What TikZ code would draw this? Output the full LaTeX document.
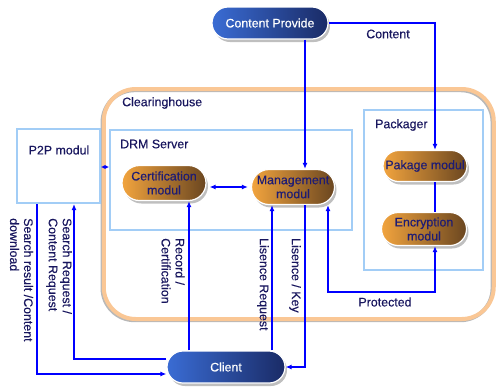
\documentclass[tikz,border=0pt]{standalone}
\usepackage{fontspec}
\setmainfont{Liberation Sans}
\newfontfamily\labelfont{Liberation Sans}[FakeBold=0.35]
\usetikzlibrary{arrows.meta,shapes.misc,shadows}

\definecolor{navy}{HTML}{18165E}
\definecolor{modtext}{HTML}{1E1C74}
\definecolor{wire}{HTML}{0000FF}
\definecolor{peach}{HTML}{FAC795}
\definecolor{frameblue}{HTML}{A2CDF6}
\definecolor{ambl}{HTML}{F2A43E}
\definecolor{ambr}{HTML}{6A4620}
\definecolor{bluel}{HTML}{3A6CD4}
\definecolor{bluer}{HTML}{1A2B66}

\tikzset{
  txt/.style={font=\labelfont\fontsize{12.4}{14}\selectfont, text=navy, inner sep=0pt},
  frame/.style={draw=frameblue, line width=2pt, inner sep=0pt},
  pill/.style={rounded rectangle, inner sep=0pt, draw=white, line width=1.2pt,
    align=center, font=\labelfont\fontsize{12.4}{14}\selectfont,
    drop shadow={shadow xshift=2pt, shadow yshift=-3pt, fill=black!50, opacity=.5}},
  modpill/.style={pill, left color=ambl, right color=ambr, text=modtext},
  actor/.style={pill, left color=bluel, right color=bluer, text=white},
  wireline/.style={draw=wire, line width=1.6pt},
  arr/.style={wireline, -{Latex[length=6pt,width=5pt]}},
  dbl/.style={wireline, {Latex[length=6pt,width=5pt]}-{Latex[length=6pt,width=5pt]}},
  dblsmall/.style={wireline, {Latex[length=4pt,width=4pt]}-{Latex[length=4pt,width=4pt]}},
  vlabel/.style={txt, rotate=-90, anchor=west, align=left},
}

\begin{document}
\begin{tikzpicture}[x=1pt,y=-1pt]
\useasboundingbox (0,0) rectangle (500,389);

% clearinghouse outline with a faint grey offset stroke behind it
\draw[draw=black!28, line width=4pt, rounded corners=32pt] (102.55,90.2) rectangle (492.55,320.2);
\node[draw=peach, line width=4pt, rounded corners=32pt, minimum width=390,
      minimum height=230] (ch) at (298.75,204) {};

% inner frames
\node[frame, minimum width=242, minimum height=100] (drm) at (231,180) {};
\node[frame, minimum width=119, minimum height=160] (pk) at (423.5,190) {};
\node[frame, minimum width=83, minimum height=74] (p2p) at (58.5,166) {};

% frame titles
\node[txt, anchor=west] (tch) at (122,103) {Clearinghouse};
\node[txt, anchor=west] (tdrm) at (120,144) {DRM Server};
\node[txt, anchor=west] (tpk) at (375,125) {Packager};
\node[txt] (tp2p) at (59,150) {P2P modul};

% modules and actors
\node[modpill, minimum width=84, minimum height=35] (cert) at (164,183) {Certification\\modul};
\node[modpill, minimum width=83, minimum height=35] (mgmt) at (293,187) {Management\\modul};
\node[modpill, minimum width=84, minimum height=31] (pkg) at (425,166) {Pakage modul};
\node[modpill, minimum width=85, minimum height=33] (enc) at (424,229) {Encryption\\modul};
\node[actor, minimum width=116, minimum height=32] (cp) at (270,23) {Content Provide};
\node[actor, minimum width=118, minimum height=32] (client) at (226,367) {Client};

% routing guides
\coordinate (xc) at (305,0);
\coordinate (xp) at (435,0);
\coordinate (xl) at (272,0);
\coordinate (xr) at (189,0);
\coordinate (pb) at (328,292);
\coordinate (yp) at (0,167);
\coordinate (r1) at (74,359);
\coordinate (r2) at (37,374);

% connectors
\draw[arr] (cp.south -| xc) -- (mgmt.north -| xc);
\draw[arr] (cp.east) -| (pkg.north -| xp);
\draw[wireline] (pkg.south -| xp) -- (enc.north -| xp);
\draw[dbl] (mgmt.south -| pb) -- (pb) -| (enc.south -| xp);
\draw[dblsmall] (p2p.east |- yp) -- (drm.west |- yp);
\draw[dbl, shorten <=3pt, shorten >=3pt] (cert.east |- mgmt.west) -- (mgmt.west);
\draw[arr] (client.north -| xl) -- (mgmt.south -| xl);
\draw[arr] (mgmt.south -| xc) |- (client.east);
\draw[arr] (client.north -| xr) -- (cert.south -| xr);
\draw[arr] (client.west |- r1) -| (p2p.south -| r1);
\draw[arr] (p2p.south -| r2) |- (client.west |- r2);

% connector labels
\node[txt] (lcontent) at (388,34) {Content};
\node[txt] (lprot) at (385,302) {Protected};
\node[vlabel] (lsr) at (21.5,218) {Search result /Content\\download};
\node[vlabel] (lsq) at (59,218) {Search Request /\\Content Request};
\node[vlabel] (lrec) at (173,238) {Record /\\Certification};
\node[vlabel] (llr) at (263,238) {Lisence Request};
\node[vlabel] (llk) at (295,238) {Lisence / Key};
\end{tikzpicture}
\end{document}
